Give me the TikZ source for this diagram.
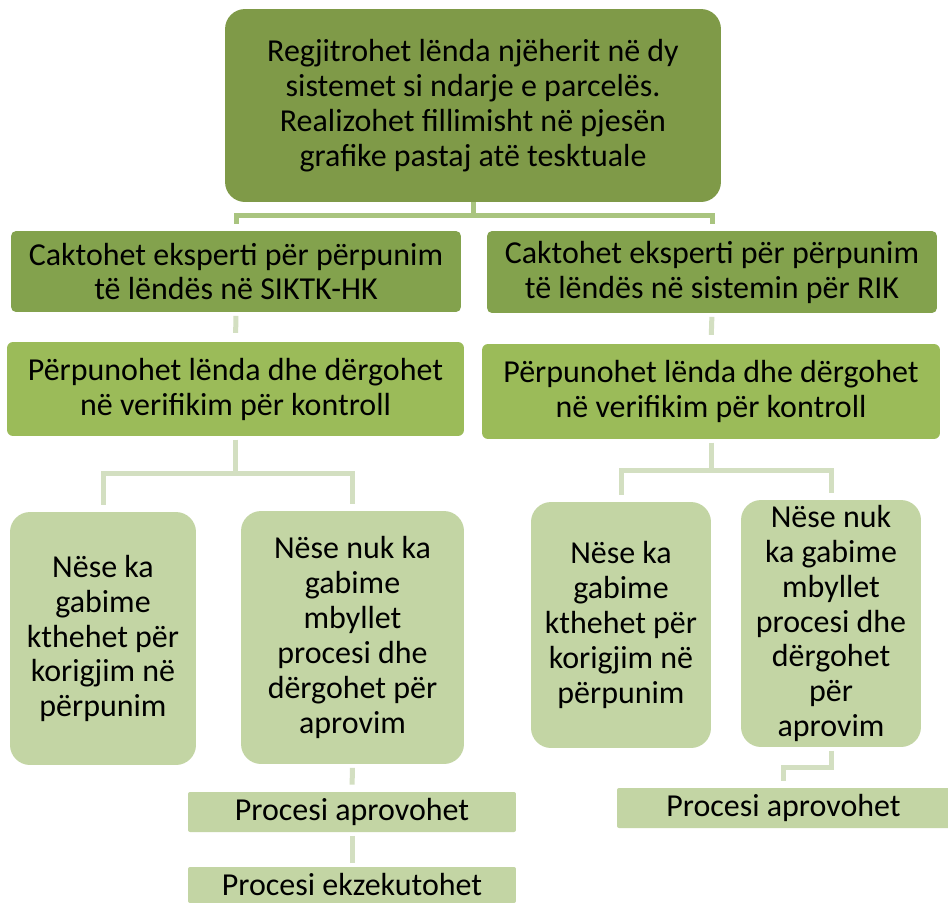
\documentclass[tikz,border=0pt]{standalone}
\usepackage{fontspec}
\setmainfont{Carlito}
\definecolor{oliveTop}{HTML}{7F9A48}
\definecolor{oliveMid}{HTML}{83A24D}
\definecolor{greenBox}{HTML}{9BBB59}
\definecolor{paleBox}{HTML}{C3D5A4}
\definecolor{linkDark}{HTML}{A9C47F}
\definecolor{linkLight}{HTML}{D3DFC1}
\tikzset{
  stepbase/.style={align=center,inner sep=0pt,text=black,
    font=\fontsize{18.2pt}{19.9pt}\selectfont},
  headbox/.style={stepbase,fill=oliveTop,rounded corners=0.4cm},
  expertbox/.style={stepbase,fill=oliveMid,rounded corners=0.1cm},
  workbox/.style={stepbase,fill=greenBox,rounded corners=0.12cm},
  casebox/.style={stepbase,fill=paleBox,rounded corners=0.4cm},
  endbox/.style={stepbase,fill=paleBox,rounded corners=0.04cm},
  link/.style={line width=0.1cm,linkDark},
  paleLink/.style={line width=0.1cm,linkLight}
}
\begin{document}
\begin{tikzpicture}[x=0.02cm,y=-0.02cm]
  \clip (0,0) rectangle (948,903);
  \fill[white] (0,0) rectangle (948,903);
  % top
  \node[headbox,minimum width=9.92cm,minimum height=3.86cm] (reg) at (473,105.5)
    {Regjitrohet lënda njëherit në dy\\sistemet si ndarje e parcelës.\\Realizohet fillimisht në pjesën\\grafike pastaj atë tesktuale};
  % experts
  \node[expertbox,minimum width=9.0cm,minimum height=1.62cm] (expL) at (236,271.5)
    {Caktohet eksperti për përpunim\\të lëndës në SIKTK-HK};
  \node[expertbox,minimum width=9.0cm,minimum height=1.64cm] (expR) at (712,272)
    {Caktohet eksperti për përpunim\\të lëndës në sistemin për RIK};
  % processing
  \node[workbox,minimum width=9.14cm,minimum height=1.88cm] (workL) at (235.5,389)
    {Përpunohet lënda dhe dërgohet\\në verifikim për kontroll};
  \node[workbox,minimum width=9.16cm,minimum height=1.9cm] (workR) at (711,391.5)
    {Përpunohet lënda dhe dërgohet\\në verifikim për kontroll};
  % cases
  \node[casebox,minimum width=3.72cm,minimum height=5.06cm] (errL) at (103,638.5)
    {Nëse ka\\gabime\\kthehet për\\korigjim në\\përpunim};
  \node[casebox,minimum width=4.46cm,minimum height=5.06cm] (okL) at (352.5,637.5)
    {Nëse nuk ka\\gabime\\mbyllet\\procesi dhe\\dërgohet për\\aprovim};
  \node[casebox,minimum width=3.6cm,minimum height=4.92cm] (errR) at (621,625)
    {Nëse ka\\gabime\\kthehet për\\korigjim në\\përpunim};
  \node[casebox,minimum width=3.6cm,minimum height=4.94cm] (okR) at (831,623.5)
    {Nëse nuk\\ka gabime\\mbyllet\\procesi dhe\\dërgohet\\për\\aprovim};
  % end
  \node[endbox,minimum width=6.56cm,minimum height=0.8cm] (aprL) at (352,812)
    {Procesi aprovohet};
  \node[endbox,minimum width=6.56cm,minimum height=0.72cm] (exeL) at (352,885)
    {Procesi ekzekutohet};
  \node[endbox,minimum width=6.66cm,minimum height=0.8cm] (aprR) at (783.5,808)
    {Procesi aprovohet};
  % connectors
  \draw[link,shorten >=4pt] (reg.south) -- ++(0,13) -| (expL.north);
  \draw[link,shorten >=4pt] (reg.south) -- ++(0,13) -| (expR.north);
  \draw[paleLink,shorten <=2pt,shorten >=5pt] (expL.south) -- (workL.north);
  \draw[paleLink,shorten <=2pt,shorten >=5pt] (expR.south) -- (workR.north);
  \draw[paleLink,shorten <=2pt,shorten >=4pt] (workL.south) -- ++(0,37) -| (errL.north);
  \draw[paleLink,shorten <=2pt,shorten >=4pt] (workL.south) -- ++(0,37) -| (okL.north);
  \draw[paleLink,shorten <=2pt,shorten >=4pt] (workR.south) -- ++(0,31) -| (errR.north);
  \draw[paleLink,shorten <=2pt,shorten >=4pt] (workR.south) -- ++(0,31) -| (okR.north);
  \draw[paleLink,shorten <=2pt,shorten >=4pt] (okL.south) -- (aprL.north);
  \draw[paleLink,shorten <=2pt,shorten >=2pt] (aprL.south) -- (exeL.north);
  \draw[paleLink,shorten <=2pt,shorten >=4pt] (okR.south) -- ++(0,20) -| (aprR.north);
\end{tikzpicture}
\end{document}
